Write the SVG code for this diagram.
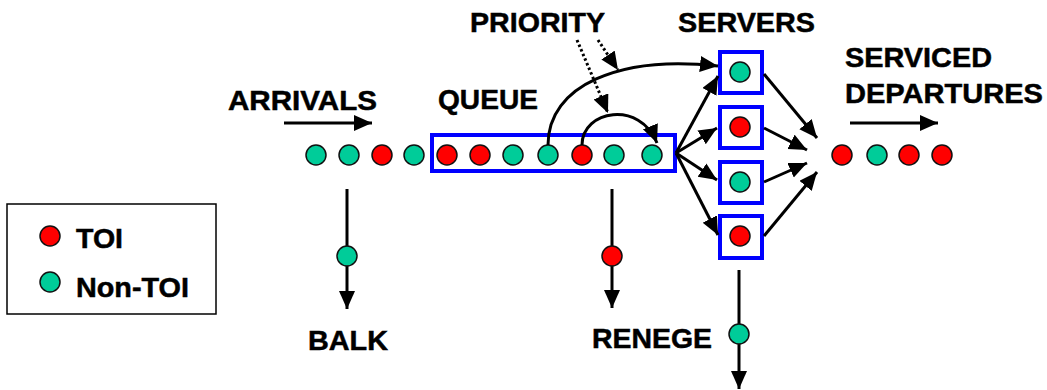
<svg xmlns="http://www.w3.org/2000/svg" width="1047" height="390" viewBox="0 0 1047 390">
<style>
text{font-family:"Liberation Sans",Arial,sans-serif;font-weight:bold;font-size:28px;fill:#000;stroke:#000;stroke-width:0.5}
.g{fill:#00CC99;stroke:#111;stroke-width:1.5}
.r{fill:#FF0000;stroke:#111;stroke-width:1.5}
.box{fill:#fff;stroke:#0000FF;stroke-width:4}
.c{fill:none;stroke:#000;stroke-width:3;marker-end:url(#ah)}
.d{fill:none;stroke:#000;stroke-width:3;stroke-dasharray:2.5 2.5;marker-end:url(#ah)}
</style>
<defs>
<marker id="ah" markerUnits="userSpaceOnUse" markerWidth="20" markerHeight="18" refX="18" refY="8" orient="auto" viewBox="0 0 20 18">
<path d="M0,0 L18,8 L0,16 z" fill="#000"/>
</marker>
</defs>
<rect width="1047" height="390" fill="#fff"/>

<g id="legend">
<rect x="7" y="204" width="209" height="110" fill="#fff" stroke="#000" stroke-width="1.5"/>
<circle class="r" cx="50" cy="236" r="10"/>
<text x="76" y="248" textLength="47" lengthAdjust="spacingAndGlyphs">TOI</text>
<circle class="g" cx="50" cy="282" r="10"/>
<text x="76" y="297" textLength="113" lengthAdjust="spacingAndGlyphs">Non-TOI</text>
</g>

<g id="arrivals">
<text x="228" y="110" textLength="149" lengthAdjust="spacingAndGlyphs">ARRIVALS</text>
<circle class="g" cx="316" cy="155" r="10"/>
<circle class="g" cx="349" cy="155" r="10"/>
<circle class="r" cx="382" cy="155" r="10"/>
<circle class="g" cx="414" cy="155" r="10"/>
</g>

<g id="queue">
<text x="438" y="109" textLength="100" lengthAdjust="spacingAndGlyphs">QUEUE</text>
<rect class="box" x="432" y="135" width="243" height="36"/>
<circle class="r" cx="447" cy="155" r="10"/>
<circle class="r" cx="480" cy="155" r="10"/>
<circle class="g" cx="513" cy="155" r="10"/>
<circle class="g" cx="548" cy="155" r="10"/>
<circle class="r" cx="582" cy="155" r="10"/>
<circle class="g" cx="614" cy="155" r="10"/>
<circle class="g" cx="652" cy="155" r="10"/>
</g>

<g id="priority">
<text x="470" y="32" textLength="135" lengthAdjust="spacingAndGlyphs">PRIORITY</text>
</g>

<g id="servers">
<text x="678" y="32" textLength="137" lengthAdjust="spacingAndGlyphs">SERVERS</text>
<rect class="box" x="720" y="52" width="42" height="41"/>
<circle class="g" cx="740" cy="72" r="10"/>
<rect class="box" x="720" y="107" width="42" height="41"/>
<circle class="r" cx="740" cy="127" r="10"/>
<rect class="box" x="720" y="162" width="42" height="41"/>
<circle class="g" cx="740" cy="182" r="10"/>
<rect class="box" x="720" y="216" width="42" height="42"/>
<circle class="r" cx="740" cy="236" r="10"/>
</g>

<g id="departures">
<text x="845" y="67" textLength="147" lengthAdjust="spacingAndGlyphs">SERVICED</text>
<text x="845" y="103" textLength="198" lengthAdjust="spacingAndGlyphs">DEPARTURES</text>
<circle class="r" cx="842" cy="155" r="10"/>
<circle class="g" cx="877" cy="155" r="10"/>
<circle class="r" cx="909" cy="155" r="10"/>
<circle class="r" cx="942" cy="155" r="10"/>
</g>

<g id="connectors">
<line class="c" x1="284" y1="123" x2="372" y2="123"/>
<line class="c" x1="850" y1="123" x2="938" y2="123"/>
<path class="c" d="M548,145 C548,85 620,55 718,66"/>
<path class="c" d="M582,145 C582,110 640,100 657,143"/>
<line class="d" x1="598" y1="40" x2="618" y2="70"/>
<line class="d" x1="577" y1="40" x2="608" y2="113"/>
<line class="c" x1="676" y1="153" x2="718" y2="76"/>
<line class="c" x1="676" y1="153" x2="717" y2="128"/>
<line class="c" x1="676" y1="153" x2="717" y2="180"/>
<line class="c" x1="676" y1="153" x2="718" y2="235"/>
<line class="c" x1="764" y1="74" x2="817" y2="138"/>
<line class="c" x1="764" y1="128" x2="807" y2="150"/>
<line class="c" x1="764" y1="182" x2="807" y2="163"/>
<line class="c" x1="764" y1="236" x2="817" y2="172"/>
<line class="c" x1="347" y1="189" x2="347" y2="309"/>
<line class="c" x1="612" y1="189" x2="612" y2="308"/>
<line class="c" x1="739" y1="270" x2="739" y2="389"/>
</g>

<g id="balk">
<circle class="g" cx="347" cy="256" r="10"/>
<text x="308" y="350" textLength="80" lengthAdjust="spacingAndGlyphs">BALK</text>
</g>
<g id="renege">
<circle class="r" cx="612" cy="256" r="10"/>
<text x="592" y="348" textLength="120" lengthAdjust="spacingAndGlyphs">RENEGE</text>
</g>
<g id="server-exit">
<circle class="g" cx="739" cy="334" r="10"/>
</g>
</svg>
